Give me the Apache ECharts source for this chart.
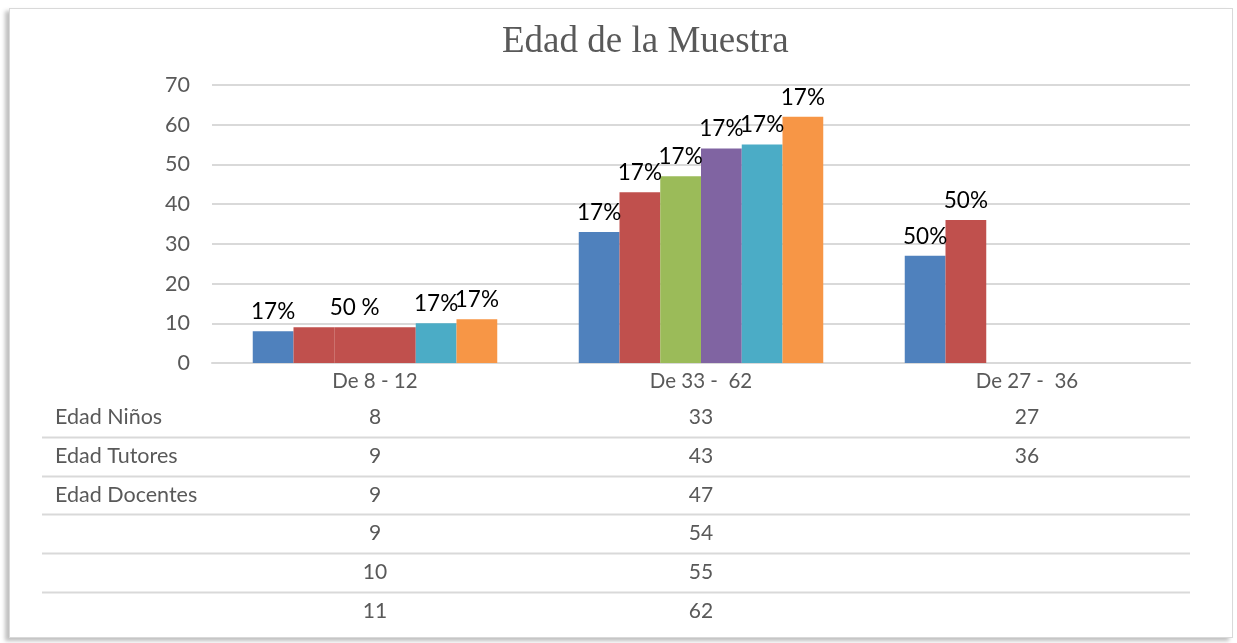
<!DOCTYPE html>
<html>
<head>
<meta charset="utf-8">
<title>Edad de la Muestra</title>
<script src="https://cdn.jsdelivr.net/npm/echarts@6/dist/echarts.min.js"></script>
<style>
  html, body { margin: 0; padding: 0; background: #fff; }
  #frame {
    position: absolute; left: 9px; top: 8px; width: 1222px; height: 628px;
    border: 1px solid #d9d9d9;
    box-shadow: -4px 3px 4px rgba(0,0,0,0.25);
    background: #fff;
  }
  #chart { position: absolute; left: 0; top: 0; width: 1237px; height: 643px; }
</style>
</head>
<body>
<div id="frame"></div>
<div id="chart"></div>
<script>
// data
var categories = ['De 8 - 12', 'De 33 -  62', 'De 27 -  36'];
var seriesNames = ['Edad Niños', 'Edad Tutores', 'Edad Docentes', '', '', ''];
var ninos    = [8, 33, 27];
var tutores  = [9, 43, 36];
var docentes = [9, 47, null];
var serie4   = [9, 54, null];
var serie5   = [10, 55, null];
var serie6   = [11, 62, null];
var allValues = [ninos, tutores, docentes, serie4, serie5, serie6];

// percentage labels shown above each bar ('' = none)
var pctNinos    = ['17%', '17%', '50%'];
var pctTutores  = ['', '17%', '50%'];
var pctDocentes = ['50 %', '17%', ''];
var pctSerie4   = ['', '17%', ''];
var pctSerie5   = ['17%', '17%', ''];
var pctSerie6   = ['17%', '17%', ''];
var allPct = [pctNinos, pctTutores, pctDocentes, pctSerie4, pctSerie5, pctSerie6];

var colors = ['#4F81BD', '#C0504D', '#9BBB59', '#8064A2', '#4BACC6', '#F79646'];
var yTicks = { min: 0, max: 70, interval: 10 };

var sansFont = 'Lato, "Open Sans", sans-serif';

// first group in the original has docentes + serie4 painted red
var overrideColor = { 2: { 0: '#C0504D' }, 3: { 0: '#C0504D' } };

var chart = echarts.init(document.getElementById('chart'));

var series = allValues.map(function (vals, s) {
  return {
    name: seriesNames[s] || ('s' + s),
    type: 'bar',
    barGap: '0%',
    barCategoryGap: '25%',
    data: vals.map(function (v, i) {
      var item = { value: v };
      if (overrideColor[s] && overrideColor[s][i]) {
        item.itemStyle = { color: overrideColor[s][i] };
      }
      return item;
    }),
    itemStyle: { color: colors[s] },
    label: {
      show: true,
      position: 'top',
      distance: 8,
      color: '#000',
      fontFamily: sansFont,
      fontSize: 22.5,
      formatter: function (p) { return allPct[s][p.dataIndex] || ''; }
    }
  };
});

// table rows under the axis: category name then one line per series
function tableLabel(value, index) {
  var lines = ['{cat|' + value + '}'];
  allValues.forEach(function (vals) {
    var v = vals[index];
    lines.push('{v|' + (v == null ? ' ' : v) + '}');
  });
  return lines.join('\n');
}

var rowTop = 417.5, rowStep = 38.7;
var graphics = [];
seriesNames.forEach(function (name, r) {
  graphics.push({
    type: 'text',
    x: 55,
    y: rowTop + r * rowStep,
    style: { text: name, fill: '#595959', font: '21.5px ' + sansFont, verticalAlign: 'middle' }
  });
  if (r > 0) {
    var ly = Math.round(rowTop + r * rowStep - rowStep / 2) + 0.5;
    graphics.push({
      type: 'line',
      shape: { x1: 42, y1: ly, x2: 1190, y2: ly },
      style: { stroke: '#d9d9d9', lineWidth: 2 }
    });
  }
});

var option = {
  animation: false,
  title: {
    text: 'Edad de la Muestra',
    left: 497,
    top: 19,
    textStyle: {
      fontFamily: '"Liberation Serif", "Times New Roman", serif',
      fontWeight: 'normal',
      fontSize: 37,
      color: '#595959'
    }
  },
  grid: { left: 212, right: 47, top: 85, bottom: 280 },
  xAxis: {
    type: 'category',
    data: categories,
    axisLine: { lineStyle: { color: '#d9d9d9', width: 2 } },
    axisTick: { show: false },
    axisLabel: {
      margin: 2,
      interval: 0,
      formatter: tableLabel,
      rich: {
        cat: { fontFamily: sansFont, fontSize: 20.5, color: '#595959', lineHeight: 33 },
        v: { fontFamily: sansFont, fontSize: 21, color: '#595959', lineHeight: 38.7 }
      }
    }
  },
  yAxis: {
    type: 'value',
    min: yTicks.min,
    max: yTicks.max,
    interval: yTicks.interval,
    axisLine: { show: false },
    axisTick: { show: false },
    splitLine: { lineStyle: { color: '#d9d9d9', width: 2 } },
    axisLabel: { margin: 22, fontFamily: sansFont, fontSize: 21.5, color: '#595959' }
  },
  graphic: graphics,
  series: series
};

chart.setOption(option);
</script>
</body>
</html>
